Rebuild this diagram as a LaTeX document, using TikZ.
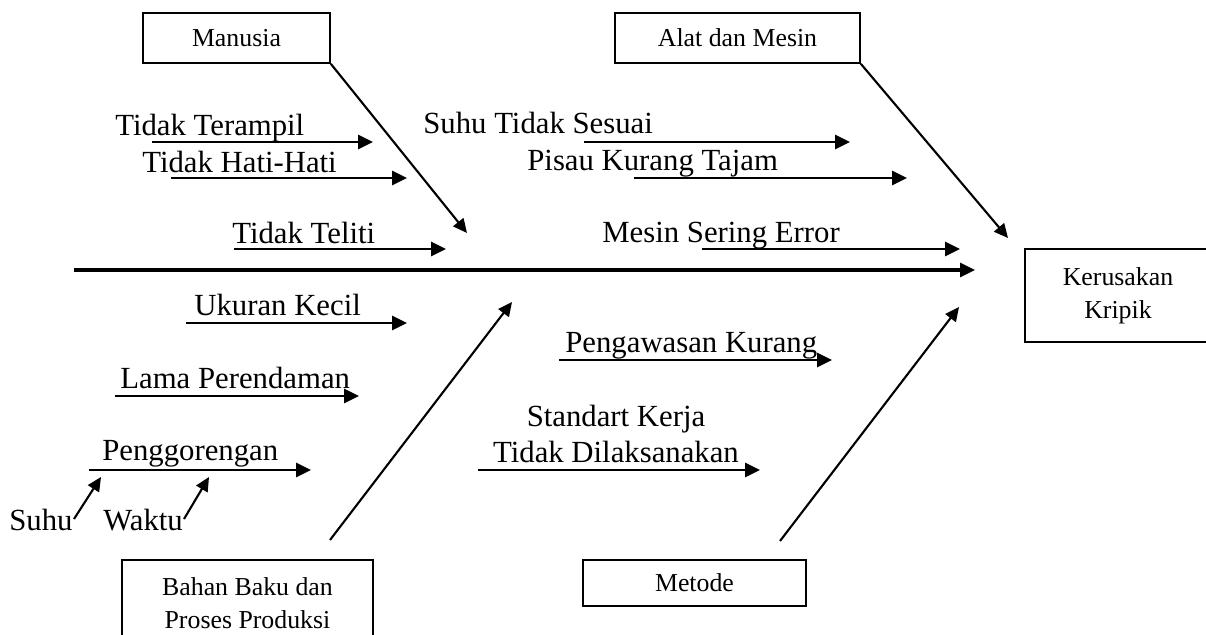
\documentclass[tikz,border=0pt]{standalone}
\usepackage{fontspec}
\setmainfont{Liberation Serif}
\usepackage{tikz}
\usetikzlibrary{arrows.meta,positioning,calc}
\tikzstyle{catbox}=[draw,line width=1pt,align=center,inner sep=0pt,font=\fontsize{14.7}{18.7}\selectfont]
\tikzstyle{cause}=[anchor=base west,inner sep=0pt,font=\fontsize{17.5}{20.4}\selectfont]
\tikzstyle{bone}=[line width=1.6pt,-{Triangle[length=0.3cm,width=0.28cm]}]
\tikzstyle{rib}=[line width=1.2pt,-{Triangle[length=0.28cm,width=0.26cm]}]

\begin{document}
\begin{tikzpicture}[x=0.02cm,y=-0.02cm]
\clip (0,0) rectangle (1206,635);
\node (man) at (236.5,38)[catbox,minimum width=3.74cm,minimum height=1cm] {Manusia};
\node (alat) at (737.5,38)[catbox,minimum width=4.9cm,minimum height=1cm] {Alat dan Mesin};
\node (kk) at (1118,295.5)[catbox,minimum width=3.72cm,minimum height=1.86cm] {Kerusakan\\Kripik};
\node (bb) at (247.5,603.5)[catbox,minimum width=5.02cm,minimum height=1.74cm] {Bahan Baku dan\\Proses Produksi};
\node (met) at (694.5,583)[catbox,minimum width=4.46cm,minimum height=0.92cm] {Metode};
\coordinate (s0) at (74,270);
\coordinate (s1) at (975,270);
\draw[bone,line width=1.8pt] (s0) -- (s1);
\coordinate (m1) at (467,233);
\coordinate (a1) at (1008,238);
\coordinate (b0) at (330,540);
\coordinate (b1) at (512,302);
\coordinate (t0) at (780,541);
\coordinate (t1) at (959,307);
\draw[rib] (man.south east) -- (m1);
\draw[rib] (alat.south east) -- (a1);
\draw[rib] (b0) -- (b1);
\draw[rib] (t0) -- (t1);
\node (tter) at (115,135)[cause] {Tidak Terampil};
\node (thati) at (142,172)[cause] {Tidak Hati-Hati};
\node (ttel) at (232,243)[cause] {Tidak Teliti};
\node (suhus) at (423,133)[cause] {Suhu Tidak Sesuai};
\node (pisau) at (527,170)[cause] {Pisau Kurang Tajam};
\node (mesin) at (602,242)[cause] {Mesin Sering Error};
\node (ukur) at (194,315)[cause] {Ukuran Kecil};
\node (lama) at (120,388)[cause] {Lama Perendaman};
\node (goreng) at (102,460)[cause] {Penggorengan};
\node (suhu) at (9,530)[cause] {Suhu};
\node (waktu) at (103,530)[cause] {Waktu};
\node (awas) at (565,352)[cause] {Pengawasan Kurang};
\node (std) at (616,434)[cause,anchor=center,align=center] {Standart Kerja\\Tidak Dilaksanakan};
\coordinate (tter0) at (152,142);
\coordinate (tter1) at (373,142);
\coordinate (thati0) at (171,178);
\coordinate (thati1) at (407,178);
\coordinate (ttel0) at (234,249);
\coordinate (ttel1) at (446,249);
\coordinate (suhus0) at (584,142);
\coordinate (suhus1) at (850,142);
\coordinate (pisau0) at (634,178);
\coordinate (pisau1) at (907,178);
\coordinate (mesin0) at (702,249);
\coordinate (mesin1) at (960,249);
\coordinate (ukur0) at (186,323);
\coordinate (ukur1) at (407,323);
\coordinate (lama0) at (115,396);
\coordinate (lama1) at (359,396);
\coordinate (goreng0) at (89,470);
\coordinate (goreng1) at (311,470);
\coordinate (awas0) at (559,360);
\coordinate (awas1) at (832,360);
\coordinate (std0) at (478,470);
\coordinate (std1) at (760,470);
\coordinate (suhu0) at (74,519);
\coordinate (suhu1) at (101,477);
\coordinate (waktu0) at (184,519);
\coordinate (waktu1) at (209,477);
\draw[bone] (tter0) -- (tter1);
\draw[bone] (thati0) -- (thati1);
\draw[bone] (ttel0) -- (ttel1);
\draw[bone] (suhus0) -- (suhus1);
\draw[bone] (pisau0) -- (pisau1);
\draw[bone] (mesin0) -- (mesin1);
\draw[bone] (ukur0) -- (ukur1);
\draw[bone] (lama0) -- (lama1);
\draw[bone] (goreng0) -- (goreng1);
\draw[bone] (awas0) -- (awas1);
\draw[bone] (std0) -- (std1);
\draw[rib] (suhu0) -- (suhu1);
\draw[rib] (waktu0) -- (waktu1);
\end{tikzpicture}
\end{document}
